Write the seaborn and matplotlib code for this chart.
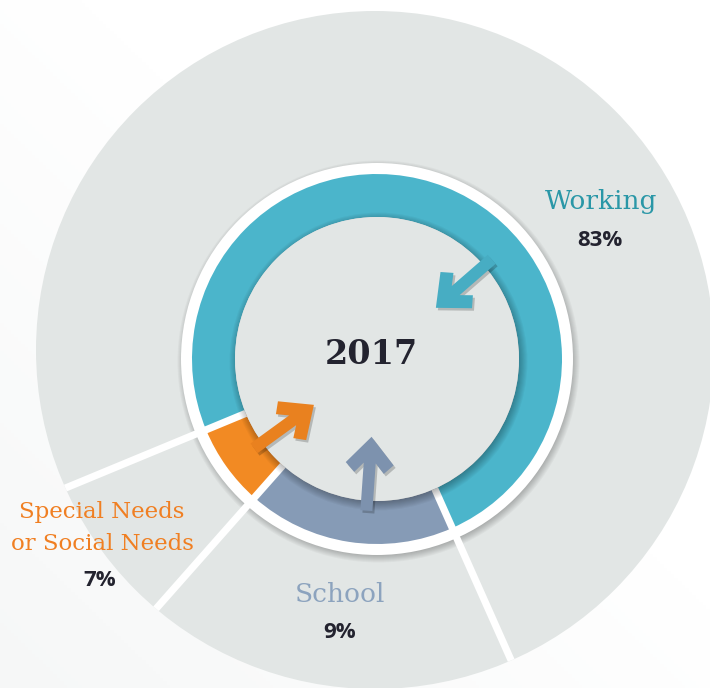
import numpy as np
import matplotlib
matplotlib.use("Agg")
import matplotlib.pyplot as plt
from matplotlib.patches import Circle, Polygon
import seaborn as sns

# ---- data ----
categories = ["Working", "Special Needs\nor Social Needs", "School"]
percent_labels = ["83%", "7%", "9%"]
# angular size of each ring segment as drawn (degrees), counter-clockwise,
# starting at the Working / School split
arc_degrees = [268.5, 26.0, 65.5]
year_label = "2017"

seg_colors = ["#4bb5cb", "#f28a23", "#869bb6"]
arrow_colors = ["#47adc3", "#e9811f", "#7d92ae"]
label_colors = ["#2a97a7", "#f07f22", "#8ca3be"]
dark = "#23232f"
grey = "#e2e6e5"

# ---- layout (pixel units, y measured from the top) ----
W, H = 710, 688
START_ANGLE = 294
ring_c = (377, 359)
big_c = (375, 350)
R_BIG, R_WHITE, R_RING, R_INNER = 339, 196, 185, 142
label_xy = [(601, 201), (102, 528), (340, 595)]
label_size = [19, 16.5, 19]
pct_xy = [(600, 240), (100, 580), (340, 632)]
arrow_angles = [41, 216, 266]


def px(x, y):
    return x, H - y


sns.set_theme(style="white")
plt.rcParams["font.family"] = ["DejaVu Sans"]

fig = plt.figure(figsize=(W / 100, H / 100), dpi=100)
ax = fig.add_axes([0, 0, 1, 1])

# faint diagonal wash in the lower-left background
gx, gy = np.meshgrid(np.linspace(0, 1, 200), np.linspace(0, 1, 200))
wash = np.clip(1.0 - (gx + (1 - gy)) * 0.9, 0, 1)
bg = np.ones((200, 200, 3))
tint = np.array([0.93, 0.94, 0.94])
bg = bg * (1 - wash[..., None] * 0.5) + tint * (wash[..., None] * 0.5)
ax.imshow(bg, extent=(0, W, 0, H), origin="upper", zorder=0, aspect="auto")

C = np.array(px(*ring_c), dtype=float)
BC = np.array(px(*big_c), dtype=float)

big = Circle(BC, R_BIG, color=grey, lw=0, zorder=1)
ax.add_patch(big)


def soft_shadow(center, r, z, off=(1.5, -2.5), n=9, step=1.0, alpha=0.03):
    for i in range(n):
        ax.add_patch(Circle((center[0] + off[0], center[1] + off[1]), r + i * step,
                            color="black", alpha=alpha, lw=0, zorder=z))


soft_shadow(C, R_WHITE - 3, 2)
ax.add_patch(Circle(C, R_WHITE, color="white", lw=0, zorder=2.5))

ax.pie(arc_degrees, colors=seg_colors, startangle=START_ANGLE, counterclock=True,
       radius=R_RING, center=tuple(C), frame=True,
       wedgeprops=dict(width=R_RING - R_INNER, linewidth=0, zorder=3))

# white separators along each segment boundary
bounds = START_ANGLE + np.cumsum([0] + arc_degrees[:-1])
for b in bounds:
    t = np.deg2rad(b)
    d = np.array([np.cos(t), np.sin(t)])
    p0, p1 = C + d * R_INNER, C + d * 420
    ln, = ax.plot([p0[0], p1[0]], [p0[1], p1[1]], color="white", lw=5.2,
                  solid_capstyle="butt", zorder=4)
    ln.set_clip_path(big)

soft_shadow(C, R_INNER - 3, 5, off=(1.5, -2.5), n=10, step=1.1, alpha=0.035)
ax.add_patch(Circle(C, R_INNER, color=grey, lw=0, zorder=6))


def arrow_shape(ang, r_start=152, r_tip=78, sw=6, hl=27, hh=24, t=13):
    th = np.deg2rad(ang)
    radial = np.array([np.cos(th), np.sin(th)])
    u = -radial
    v = np.array([-u[1], u[0]])
    L = r_start - r_tip
    k = t / np.sqrt(2)
    bu, bv = L - hl - k, hh - k
    iu = bu + (bv - sw) * hl / hh
    loc = [(L, 0), (L - hl, hh), (bu, bv), (iu, sw), (0, sw),
           (0, -sw), (iu, -sw), (bu, -bv), (L - hl, -hh)]
    start = C + radial * r_start
    return np.array([start + a * u + b * v for a, b in loc])


for ang, col in zip(arrow_angles, arrow_colors):
    pts = arrow_shape(ang)
    ax.add_patch(Polygon(pts + np.array([2, -2.5]), closed=True, color="black",
                         alpha=0.2, lw=0, zorder=7))
    ax.add_patch(Polygon(pts, closed=True, color=col, lw=0, zorder=8))

ax.text(*px(371, 354), year_label, ha="center", va="center", fontsize=24,
        fontweight="bold", family="DejaVu Serif", color=dark, zorder=9)

for name, pct, (lx, ly), (qx, qy), col, fs in zip(categories, percent_labels, label_xy,
                                                   pct_xy, label_colors, label_size):
    ax.text(*px(lx, ly), name, ha="center", va="center", fontsize=fs,
            family="DejaVu Serif", color=col, linespacing=1.55, zorder=9)
    ax.text(*px(qx, qy), pct, ha="center", va="center", fontsize=16,
            fontweight="bold", family="Open Sans", color=dark, zorder=9)

ax.set_xlim(0, W)
ax.set_ylim(0, H)
ax.set_aspect("auto")
ax.axis("off")

fig.savefig("out.png", dpi=100)
plt.close(fig)
